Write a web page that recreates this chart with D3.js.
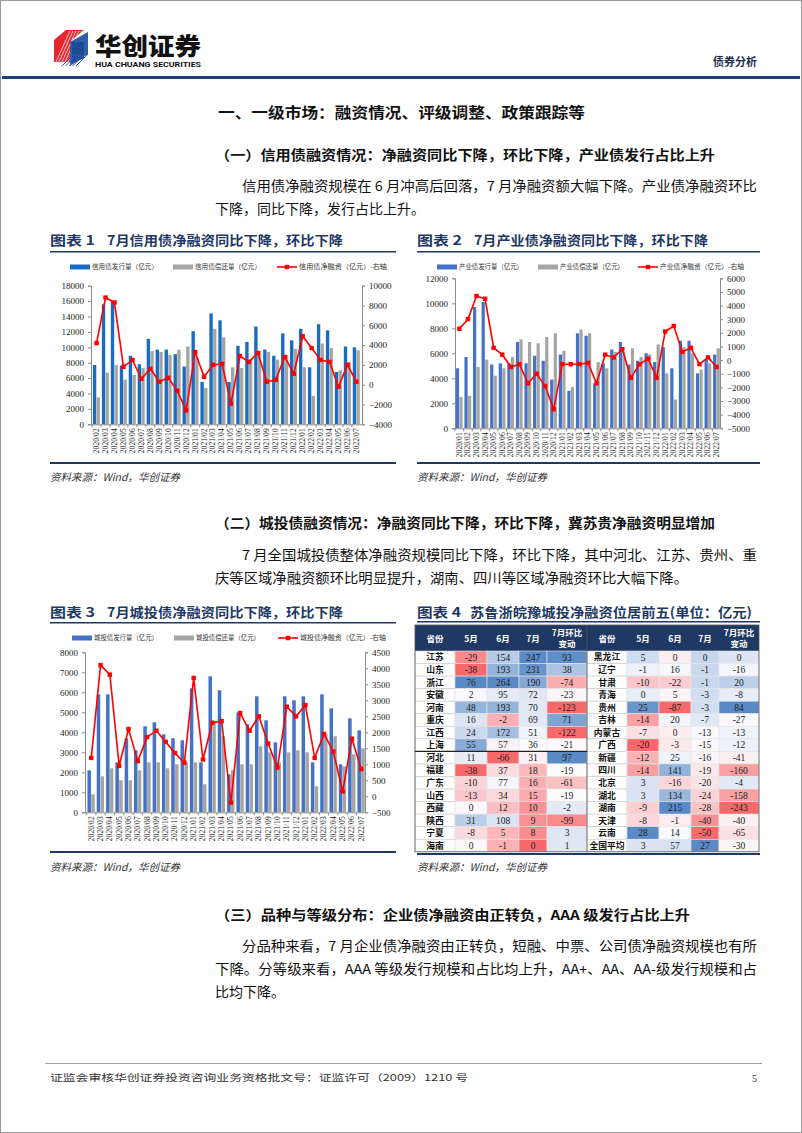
<!DOCTYPE html>
<html><head><meta charset="utf-8">
<script src="https://cdn.jsdelivr.net/npm/d3@7"></script>
<style>
html,body{margin:0;padding:0;background:#fff;}
svg{display:block;}
</style></head>
<body>
<svg id="page" width="802" height="1133"></svg>
<script>
// ---------------- DATA ----------------
const months1 = ["2020/02","2020/03","2020/04","2020/05","2020/06","2020/07","2020/08","2020/09","2020/10","2020/11","2020/12","2021/01","2021/02","2021/03","2021/04","2021/05","2021/06","2021/07","2021/08","2021/09","2021/10","2021/11","2021/12","2022/01","2022/02","2022/03","2022/04","2022/05","2022/06","2022/07"];
const creditIssue = [7700,15600,16000,7600,8900,7800,11100,9700,9700,9100,7500,12100,5500,14400,13500,5500,10200,10700,12700,9700,8900,11800,10900,12400,7400,13000,12200,6800,10100,10000];
const creditRepay = [3500,6700,7700,5800,6400,7300,9500,9400,9000,9700,10100,8700,4700,12400,11300,7400,7300,8400,9500,9400,8400,9000,9800,7400,3700,10500,9900,7000,8100,9600];
const creditNet = [4200,8800,8300,1800,2500,600,1600,300,700,-600,-2600,3300,800,2000,2100,-1900,2900,2300,3200,300,500,2800,1100,4900,3700,2500,2300,-200,2000,300];

const months2 = ["2020/01","2020/02","2020/03","2020/04","2020/05","2020/06","2020/07","2020/08","2020/09","2020/10","2020/11","2020/12","2021/01","2021/02","2021/03","2021/04","2021/05","2021/06","2021/07","2021/08","2021/09","2021/10","2021/11","2021/12","2022/01","2022/02","2022/03","2022/04","2022/05","2022/06","2022/07"];
const indIssue = [4800,5700,9700,10100,5100,5200,5200,6900,5200,5800,5400,3900,5900,3000,7600,7400,3600,5200,6300,6900,5100,5400,6000,5300,6500,4800,7000,7000,4400,5500,5900];
const indRepay = [2500,2600,4900,5500,4200,4800,5700,7100,6900,6800,7300,7600,6200,3300,7900,7600,5300,4800,6100,6100,6400,5700,5900,6700,4400,2300,6500,6000,4700,5200,6400];
const indNet = [2300,3000,4700,4500,900,400,-500,-300,-1700,-1000,-1900,-3600,-300,-300,-300,-200,-1700,400,200,800,-1300,-300,100,-1300,2100,2500,600,900,-300,200,-500];

const months3 = months1;
const cityIssue = [2100,5900,5900,2500,3700,3100,4300,4500,3900,3700,3600,6200,2500,6800,6100,1900,5000,4400,5800,4600,3500,5800,5600,5800,2500,5900,5200,2400,4700,4100];
const cityRepay = [900,1800,2200,1600,1600,2100,2500,2500,2200,2400,2500,2500,1400,4500,3800,2100,2400,2400,3300,3000,2500,3000,3100,3000,1300,3900,3800,2300,2900,3200];
const cityNet = [1200,4100,3800,950,2100,1100,1850,2050,1700,1350,1050,3700,1150,2300,2350,-200,2600,2050,2500,1650,900,2800,2500,2850,1200,1950,1400,150,1800,850];

const tableHeaders = ["省份","5月","6月","7月","7月环比变动"];
const provLeft = ["江苏","山东","浙江","安徽","河南","重庆","江西","上海","河北","福建","广东","山西","西藏","陕西","宁夏","海南"];
const mayLeft = [-29,-38,76,2,48,16,24,55,11,-38,-10,-13,0,31,-8,0];
const junLeft = [154,193,264,95,193,-2,172,57,-66,37,77,34,12,108,5,-1];
const julLeft = [247,231,190,72,70,69,51,36,31,18,16,15,10,9,8,0];
const chgLeft = [93,38,-74,-23,-123,71,-122,-21,97,-19,-61,-19,-2,-99,3,1];
const provRight = ["黑龙江","辽宁","甘肃","青海","贵州","吉林","内蒙古","广西","新疆","四川","北京","湖北","湖南","天津","云南","全国平均"];
const mayRight = [5,-1,-10,0,25,-14,-7,-20,-12,-14,3,3,-9,-8,28,3];
const junRight = [0,16,-22,5,-87,20,0,-3,25,141,-16,134,215,-1,14,57];
const julRight = [0,-1,-1,-3,-3,-7,-13,-15,-16,-19,-20,-24,-28,-40,-50,27];
const chgRight = [0,-16,20,-8,84,-27,-13,-12,-41,-160,-4,-158,-243,-40,-65,-30];

// ---------------- PAGE ----------------
const svg = d3.select("#page");
const CJK = "'Noto Sans CJK SC','Noto Sans',sans-serif";
const SERIF = "'Liberation Serif','DejaVu Serif',serif";
const NAVY = "#1f3864";

svg.append("rect").attr("x",0.5).attr("y",0.5).attr("width",801).attr("height",1132).attr("fill","#fff").attr("stroke","#9a9a9a");

// logo
const logo = svg.append("g");
logo.append("polygon").attr("points","54,40 66,30 84,30 72,40 72,62 54,62").attr("fill","#e8262d");
for(let i=0;i<6;i++){
  logo.append("line").attr("x1",56+i*3).attr("y1",62).attr("x2",70+i*3).attr("y2",31).attr("stroke","#fff").attr("stroke-width",0.9).attr("opacity",0.85);
}
logo.append("polygon").attr("points","70,42 88,32 88,54 70,66").attr("fill","#2f5fa8");
logo.append("polygon").attr("points","72,42 84,42 84,58 72,64").attr("fill","#1e4a94");
for(let i=0;i<5;i++){
  logo.append("line").attr("x1",62+i*3.5).attr("y1",66).attr("x2",74+i*3.5).attr("y2",54).attr("stroke","#2f5fa8").attr("stroke-width",1);
}
logo.append("text").attr("x",95).attr("y",55).attr("font-family",CJK).attr("font-weight",900).attr("font-size",24)
  .attr("textLength",106).attr("lengthAdjust","spacingAndGlyphs").attr("fill","#111").text("华创证券");
logo.append("text").attr("x",95).attr("y",66.5).attr("font-family","'Roboto','Liberation Sans',sans-serif").attr("font-weight",700).attr("font-size",7)
  .attr("textLength",106).attr("lengthAdjust","spacingAndGlyphs").attr("fill","#111").text("HUA CHUANG SECURITIES");

svg.append("text").attr("x",757).attr("y",66).attr("text-anchor","end").attr("font-family",CJK).attr("font-weight",700).attr("font-size",11).attr("fill","#1f2d50").text("债券分析");
svg.append("rect").attr("x",2).attr("y",76).attr("width",798).attr("height",3).attr("fill","#1f3d7a");

function txt(x,y,s,opts={}){
  const t = svg.append("text").attr("x",x).attr("y",y).attr("font-family",opts.font||CJK)
    .attr("font-size",opts.size||13).attr("font-weight",opts.weight||400).attr("fill",opts.fill||"#111")
    .attr("text-anchor",opts.anchor||"start");
  if(opts.len){t.attr("textLength",opts.len).attr("lengthAdjust","spacingAndGlyphs");}
  if(opts.style) t.attr("font-style",opts.style);
  t.text(s);
  return t;
}

txt(218,118,"一、一级市场：融资情况、评级调整、政策跟踪等",{size:15,weight:700,len:367});
txt(215,160,"（一）信用债融资情况：净融资同比下降，环比下降，产业债发行占比上升",{size:13.5,weight:700,len:500});
txt(242,191,"信用债净融资规模在 6 月冲高后回落，7 月净融资额大幅下降。产业债净融资环比",{size:13.5,len:515});
txt(215,214,"下降，同比下降，发行占比上升。",{size:13.5,len:210});

txt(50,245,"图表 1",{size:13,weight:700,fill:NAVY,len:45});
txt(107,245,"7月信用债净融资同比下降，环比下降",{size:13,weight:700,fill:NAVY,len:236});
txt(417,245,"图表 2",{size:13,weight:700,fill:NAVY,len:45});
txt(474,245,"7月产业债净融资同比下降，环比下降",{size:13,weight:700,fill:NAVY,len:234});
svg.append("rect").attr("x",50).attr("y",251).attr("width",346).attr("height",1.5).attr("fill",NAVY);
svg.append("rect").attr("x",417).attr("y",251).attr("width",343).attr("height",1.5).attr("fill",NAVY);

svg.append("rect").attr("x",50).attr("y",462).attr("width",346).attr("height",2).attr("fill",NAVY);
svg.append("rect").attr("x",417).attr("y",462).attr("width",343).attr("height",2).attr("fill",NAVY);
txt(50,481,"资料来源：Wind，华创证券",{size:10.5,fill:"#333",style:"italic"});
txt(417,481,"资料来源：Wind，华创证券",{size:10.5,fill:"#333",style:"italic"});

txt(215,528,"（二）城投债融资情况：净融资同比下降，环比下降，冀苏贵净融资明显增加",{size:13.5,weight:700,len:500});
txt(242,560,"7 月全国城投债整体净融资规模同比下降，环比下降，其中河北、江苏、贵州、重",{size:13.5,len:515});
txt(215,583,"庆等区域净融资额环比明显提升，湖南、四川等区域净融资环比大幅下降。",{size:13.5,len:473});

txt(50,617,"图表 3",{size:13,weight:700,fill:NAVY,len:45});
txt(107,617,"7月城投债净融资同比下降，环比下降",{size:13,weight:700,fill:NAVY,len:236});
txt(417,617,"图表 4",{size:13,weight:700,fill:NAVY,len:44});
txt(470,617,"苏鲁浙皖豫城投净融资位居前五(单位：亿元)",{size:13,weight:700,fill:NAVY,len:282});
svg.append("rect").attr("x",50).attr("y",622).attr("width",346).attr("height",1.5).attr("fill",NAVY);
svg.append("rect").attr("x",417).attr("y",621).attr("width",343).attr("height",1.5).attr("fill",NAVY);
svg.append("rect").attr("x",50).attr("y",851).attr("width",346).attr("height",2).attr("fill",NAVY);
svg.append("rect").attr("x",417).attr("y",853).attr("width",343).attr("height",2).attr("fill",NAVY);
txt(50,871,"资料来源：Wind，华创证券",{size:10.5,fill:"#333",style:"italic"});
txt(417,871,"资料来源：Wind，华创证券",{size:10.5,fill:"#333",style:"italic"});

txt(215,920,"（三）品种与等级分布：企业债净融资由正转负，AAA 级发行占比上升",{size:13.5,weight:700,len:475});
txt(242,951,"分品种来看，7 月企业债净融资由正转负，短融、中票、公司债净融资规模也有所",{size:13.5,len:515});
txt(215,974,"下降。分等级来看，AAA 等级发行规模和占比均上升，AA+、AA、AA-级发行规模和占",{size:13.5,len:542});
txt(215,997,"比均下降。",{size:13.5,len:70});

svg.append("rect").attr("x",45).attr("y",1063).attr("width",717).attr("height",0.8).attr("fill","#8a8a8a");
txt(50,1081,"证监会审核华创证券投资咨询业务资格批文号：证监许可（2009）1210 号",{size:9.5,fill:"#333",len:418});
txt(757,1082,"5",{size:10,fill:"#333",font:SERIF,anchor:"end"});

// ---------------- COMBO CHARTS ----------------
function combo(cfg){
  const g = svg.append("g");
  const x = d3.scaleBand().domain(cfg.cats).range([cfg.bx0,cfg.bx1]).paddingInner(0.18).paddingOuter(0.1);
  const yL = d3.scaleLinear().domain(cfg.leftDom).range([cfg.yb,cfg.yt]);
  const yR = d3.scaleLinear().domain(cfg.rightDom).range([cfg.yb,cfg.yt]);
  const bw = x.bandwidth()/2;
  const axisCol = "#8c8c8c";

  const la = g.append("g").attr("transform",`translate(${cfg.ax0},0)`)
    .call(d3.axisLeft(yL).tickValues(d3.range(cfg.leftDom[0],cfg.leftDom[1]+1,cfg.leftStep)).tickSize(3).tickPadding(4).tickFormat(d3.format("d")));
  const ra = g.append("g").attr("transform",`translate(${cfg.ax1},0)`)
    .call(d3.axisRight(yR).tickValues(d3.range(cfg.rightDom[0],cfg.rightDom[1]+1,cfg.rightStep)).tickSize(3).tickPadding(4).tickFormat(d3.format("d")));
  [la,ra].forEach(a=>{
    a.select(".domain").attr("stroke",axisCol);
    a.selectAll(".tick line").attr("stroke",axisCol);
    a.selectAll(".tick text").attr("font-family",SERIF).attr("font-size",9).attr("fill","#222");
  });

  g.selectAll(".b1").data(cfg.cats).join("rect")
    .attr("x",d=>x(d)).attr("width",bw-0.3)
    .attr("y",(d,i)=>yL(cfg.s1[i])).attr("height",(d,i)=>yL(0)-yL(cfg.s1[i]))
    .attr("fill",cfg.c1);
  g.selectAll(".b2").data(cfg.cats).join("rect")
    .attr("x",d=>x(d)+bw).attr("width",bw-0.3)
    .attr("y",(d,i)=>yL(cfg.s2[i])).attr("height",(d,i)=>yL(0)-yL(cfg.s2[i]))
    .attr("fill","#a5a5a5");

  const xa = g.append("g").attr("transform",`translate(0,${cfg.yb})`)
    .call(d3.axisBottom(x).tickSize(0).tickPadding(0));
  xa.select(".domain").remove();
  g.append("line").attr("x1",cfg.ax0).attr("x2",cfg.ax1).attr("y1",cfg.yb+0.5).attr("y2",cfg.yb+0.5).attr("stroke",axisCol);
  const step = x.step();
  cfg.cats.forEach((d,i)=>{
    const xx = x(d)-x.paddingInner()*step/2;
    g.append("line").attr("x1",xx).attr("x2",xx).attr("y1",cfg.yb).attr("y2",cfg.yb+3).attr("stroke",axisCol);
  });
  xa.selectAll(".tick text").attr("font-family",SERIF).attr("font-size",7.6).attr("fill","#222")
    .attr("text-anchor","end").attr("dy","0.32em")
    .attr("transform","translate(0,4) rotate(-90)").attr("x",0).attr("y",0);

  const line = d3.line().x((d,i)=>x(cfg.cats[i])+x.bandwidth()/2).y(d=>yR(d));
  g.append("path").datum(cfg.s3).attr("d",line).attr("fill","none").attr("stroke","#ff0000").attr("stroke-width",1.6);
  g.selectAll(".m").data(cfg.s3).join("rect")
    .attr("x",(d,i)=>x(cfg.cats[i])+x.bandwidth()/2-2.2).attr("y",d=>yR(d)-2.2)
    .attr("width",4.4).attr("height",4.4).attr("fill","#ff0000");

  const lg = g.append("g").attr("font-family",CJK).attr("font-size",6.6).attr("fill","#333");
  const ly = cfg.ly;
  lg.append("rect").attr("x",cfg.lx[0]).attr("y",ly-2.5).attr("width",20).attr("height",5).attr("fill",cfg.c1);
  lg.append("text").attr("x",cfg.lx[0]+22).attr("y",ly+2.3).attr("fill","#333").attr("textLength",cfg.lw[0]).attr("lengthAdjust","spacingAndGlyphs").text(cfg.names[0]);
  lg.append("rect").attr("x",cfg.lx[1]).attr("y",ly-2.5).attr("width",20).attr("height",5).attr("fill","#a5a5a5");
  lg.append("text").attr("x",cfg.lx[1]+22).attr("y",ly+2.3).attr("fill","#333").attr("textLength",cfg.lw[1]).attr("lengthAdjust","spacingAndGlyphs").text(cfg.names[1]);
  lg.append("line").attr("x1",cfg.lx[2]).attr("x2",cfg.lx[2]+20).attr("y1",ly).attr("y2",ly).attr("stroke","#ff0000").attr("stroke-width",1.6);
  lg.append("rect").attr("x",cfg.lx[2]+7.8).attr("y",ly-2.2).attr("width",4.4).attr("height",4.4).attr("fill","#ff0000");
  lg.append("text").attr("x",cfg.lx[2]+22).attr("y",ly+2.3).attr("fill","#333").attr("textLength",cfg.lw[2]).attr("lengthAdjust","spacingAndGlyphs").text(cfg.names[2]);
}

combo({cats:months1,s1:creditIssue,s2:creditRepay,s3:creditNet,c1:"#1a6cc0",
  bx0:92,bx1:361,ax0:91,ax1:362,yt:285.7,yb:424.3,leftDom:[0,18000],leftStep:2000,rightDom:[-4000,10000],rightStep:2000,
  ly:267,lx:[70,173,277],lw:[66,66,88],names:["信用债发行量（亿元）","信用债偿还量（亿元）","信用债净融资（亿元）-右轴"]});
combo({cats:months2,s1:indIssue,s2:indRepay,s3:indNet,c1:"#4472c4",
  bx0:455,bx1:721,ax0:455,ax1:720,yt:278.3,yb:428.3,leftDom:[0,12000],leftStep:2000,rightDom:[-5000,6000],rightStep:1000,
  ly:267,lx:[437,538,638],lw:[64,64,84],names:["产业债发行量（亿元）","产业债偿还量（亿元）","产业债净融资（亿元）-右轴"]});
combo({cats:months3,s1:cityIssue,s2:cityRepay,s3:cityNet,c1:"#4472c4",
  bx0:86.5,bx1:366,ax0:85,ax1:365,yt:652.3,yb:812.3,leftDom:[0,8000],leftStep:1000,rightDom:[-500,4500],rightStep:500,
  ly:638,lx:[72,174,278],lw:[64,64,86],names:["城投债发行量（亿元）","城投债偿还量（亿元）","城投债净融资（亿元）-右轴"]});

// ---------------- TABLE ----------------
const tg = svg.append("g");
const colW = [40,32,32,28,40];
const tx0 = 415, ty0 = 625, headH = 26, rowH = 12.55;
const halves = [
  {prov:provLeft, cols:[mayLeft,junLeft,julLeft,chgLeft], x0:tx0},
  {prov:provRight, cols:[mayRight,junRight,julRight,chgRight], x0:tx0+d3.sum(colW)}
];
halves.forEach(h=>{
  let cx = h.x0;
  const xs = colW.map(w=>{const v=cx; cx+=w; return v;});
  tg.append("rect").attr("x",h.x0).attr("y",ty0).attr("width",d3.sum(colW)).attr("height",headH).attr("fill",NAVY);
  tableHeaders.forEach((hd,j)=>{
    const cxm = xs[j]+colW[j]/2;
    if(j===4){
      tg.append("text").attr("x",cxm).attr("y",ty0+11).attr("text-anchor","middle").attr("font-family",CJK).attr("font-weight",700).attr("font-size",8.5).attr("fill","#fff").text("7月环比");
      tg.append("text").attr("x",cxm).attr("y",ty0+22).attr("text-anchor","middle").attr("font-family",CJK).attr("font-weight",700).attr("font-size",8.5).attr("fill","#fff").text("变动");
    } else {
      tg.append("text").attr("x",cxm).attr("y",ty0+16.5).attr("text-anchor","middle").attr("font-family",CJK).attr("font-weight",700).attr("font-size",8.5).attr("fill","#fff").text(hd);
    }
  });
  const scales = h.cols.map(arr=>{
    const mn=d3.min(arr), mx=d3.max(arr), md=d3.median(arr);
    return d3.scaleLinear().domain([mn,md,mx]).range(["#F8696B","#FCFCFF","#5A8AC6"]).clamp(true);
  });
  h.prov.forEach((p,i)=>{
    const y = ty0+headH+i*rowH;
    tg.append("rect").attr("x",xs[0]).attr("y",y).attr("width",colW[0]).attr("height",rowH).attr("fill","#fff").attr("stroke","#c8c8c8").attr("stroke-width",0.6);
    tg.append("text").attr("x",xs[0]+colW[0]/2).attr("y",y+rowH/2+3.2).attr("text-anchor","middle").attr("font-family",CJK).attr("font-weight",700).attr("font-size",8.8).attr("fill","#111").text(p);
    h.cols.forEach((arr,j)=>{
      const v = arr[i];
      tg.append("rect").attr("x",xs[j+1]).attr("y",y).attr("width",colW[j+1]).attr("height",rowH).attr("fill",scales[j](v)).attr("stroke","#e4e4e4").attr("stroke-width",0.6);
      tg.append("text").attr("x",xs[j+1]+colW[j+1]/2).attr("y",y+rowH/2+3.3).attr("text-anchor","middle").attr("font-family",SERIF).attr("font-size",9.5).attr("fill","#222").text(v);
    });
  });
});
const tW = d3.sum(colW)*2, tH = headH+rowH*16;
tg.append("rect").attr("x",tx0).attr("y",ty0).attr("width",tW).attr("height",tH).attr("fill","none").attr("stroke","#555").attr("stroke-width",0.8);
tg.append("line").attr("x1",tx0+d3.sum(colW)).attr("x2",tx0+d3.sum(colW)).attr("y1",ty0).attr("y2",ty0+tH).attr("stroke","#555").attr("stroke-width",0.8);
tg.append("line").attr("x1",tx0).attr("x2",tx0+d3.sum(colW)).attr("y1",ty0+headH+rowH*8).attr("y2",ty0+headH+rowH*8).attr("stroke","#222").attr("stroke-width",1.2);
</script>
</body></html>
